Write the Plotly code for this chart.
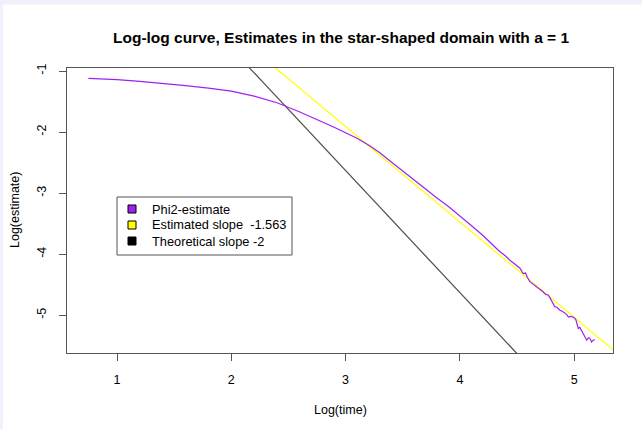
import plotly.graph_objects as go
import numpy as np

# ---------------- data ----------------
curve_x = [0.75, 0.9, 1.0, 1.2, 1.4, 1.6, 1.8, 2.0, 2.2, 2.4, 2.6, 2.7, 2.8, 2.9, 3.0,
           3.1, 3.2, 3.3, 3.4, 3.5, 3.6, 3.7, 3.8, 3.9, 4.0, 4.1, 4.2, 4.263, 4.30,
           4.351, 4.40, 4.438, 4.48, 4.526, 4.545, 4.555, 4.575, 4.59, 4.613, 4.64,
           4.672, 4.70, 4.73, 4.75, 4.773, 4.79, 4.80, 4.815, 4.83, 4.85, 4.876, 4.90,
           4.92, 4.935, 4.95, 4.97, 4.99, 5.005, 5.016, 5.026, 5.036, 5.05, 5.065, 5.08,
           5.095, 5.11, 5.125, 5.138, 5.153, 5.165, 5.18]
curve_y = [-1.12, -1.13, -1.14, -1.17, -1.20, -1.24, -1.28, -1.33, -1.41, -1.52, -1.67,
           -1.75, -1.83, -1.92, -2.01, -2.10, -2.21, -2.34, -2.49, -2.64, -2.79, -2.94,
           -3.08, -3.22, -3.37, -3.53, -3.69, -3.81, -3.87, -3.96, -4.03, -4.10, -4.16,
           -4.23, -4.29, -4.32, -4.31, -4.38, -4.45, -4.49, -4.54, -4.57, -4.62, -4.66,
           -4.67, -4.72, -4.75, -4.80, -4.86, -4.87, -4.92, -4.94, -4.97, -4.99, -5.03,
           -5.02, -5.03, -5.05, -5.08, -5.15, -5.22, -5.20, -5.25, -5.30, -5.36, -5.41,
           -5.37, -5.38, -5.44, -5.41, -5.40]

est_slope = -1.563
est_intercept = 2.78
theo_slope = -2.0
theo_intercept = 3.37

legend_labels = ["Phi2-estimate", "Estimated slope \u00a0-1.563", "Theoretical slope -2"]
legend_colors = ["#A020F0", "#FFFF00", "#000000"]

x_ticks = [1, 2, 3, 4, 5]
y_ticks = [-1, -2, -3, -4, -5]

title_text = "Log-log curve, Estimates in the star-shaped domain with a = 1"
x_title = "Log(time)"
y_title = "Log(estimate)"

# ---------------- layout geometry (pixels) ----------------
W, H = 642, 429
L, R, T, B = 67, 613, 68, 353
x_range = [0.5625, 5.34]
y_range = [-5.62, -0.95]


def px(xp):
    return (xp - L) / (R - L)


def py(yp):
    return (B - yp) / (B - T)


FONT = "Liberation Sans, Arial, sans-serif"
AXC = "#555555"

fig = go.Figure()

xl = np.array(x_range)
fig.add_trace(go.Scatter(x=xl, y=est_intercept + est_slope * xl, mode="lines",
                         line=dict(color=legend_colors[1], width=1.2), showlegend=False))
fig.add_trace(go.Scatter(x=xl, y=theo_intercept + theo_slope * xl, mode="lines",
                         line=dict(color="#4d4d4d", width=1.2), showlegend=False))
fig.add_trace(go.Scatter(x=curve_x, y=curve_y, mode="lines",
                         line=dict(color=legend_colors[0], width=1.2), showlegend=False))

shapes = []
annotations = []

# lavender page strips (top and left)
shapes.append(dict(type="rect", xref="paper", yref="paper", x0=px(0), x1=px(W),
                   y0=py(4.5), y1=py(0), fillcolor="#f1f1fb", line=dict(width=0),
                   layer="below"))
shapes.append(dict(type="rect", xref="paper", yref="paper", x0=px(0), x1=px(3),
                   y0=py(H), y1=py(0), fillcolor="#f1f1fb", line=dict(width=0),
                   layer="below"))

# legend box
shapes.append(dict(type="rect", xref="paper", yref="paper", x0=px(117), x1=px(292),
                   y0=py(255), y1=py(197), line=dict(color=AXC, width=1),
                   fillcolor="white"))
row_y = [209, 225, 241]
for lab, col, ry in zip(legend_labels, legend_colors, row_y):
    shapes.append(dict(type="rect", xref="paper", yref="paper", x0=px(128), x1=px(136),
                       y0=py(ry + 4), y1=py(ry - 4), fillcolor=col,
                       line=dict(color="black", width=1)))
    annotations.append(dict(text=lab, xref="paper", yref="paper", x=px(150), y=py(ry),
                            xanchor="left", yanchor="middle", showarrow=False,
                            font=dict(family=FONT, size=12.8, color="black")))

annotations.append(dict(text="<b>" + title_text + "</b>", xref="paper", yref="paper",
                        x=px(341), y=py(38), xanchor="center", yanchor="middle",
                        showarrow=False, font=dict(family=FONT, size=15.5, color="black")))
annotations.append(dict(text=x_title, xref="paper", yref="paper", x=px(340), y=py(410),
                        xanchor="center", yanchor="middle", showarrow=False,
                        font=dict(family=FONT, size=12.5, color="black")))
annotations.append(dict(text=y_title, xref="paper", yref="paper", x=px(15), y=py(210),
                        xanchor="center", yanchor="middle", showarrow=False, textangle=-90,
                        font=dict(family=FONT, size=12.5, color="black")))

fig.update_layout(
    width=W, height=H,
    margin=dict(l=L, r=W - R, t=T, b=H - B, pad=0),
    paper_bgcolor="white", plot_bgcolor="white",
    showlegend=False,
    shapes=shapes, annotations=annotations,
    font=dict(family=FONT, size=12, color="black"),
    xaxis=dict(range=x_range, tickvals=x_ticks, ticktext=[str(v) for v in x_ticks],
               showgrid=False, zeroline=False, showline=True, mirror=True,
               linecolor=AXC, linewidth=1, ticks="outside", ticklen=7, tickcolor=AXC,
               tickwidth=1, ticklabelstandoff=8,
               tickfont=dict(family=FONT, size=12.5, color="black")),
    yaxis=dict(range=y_range, tickvals=y_ticks, ticktext=[str(v) for v in y_ticks],
               showgrid=False, zeroline=False, showline=True, mirror=True,
               linecolor=AXC, linewidth=1, ticks="outside", ticklen=7, tickcolor=AXC,
               tickwidth=1, tickangle=-90, ticklabelstandoff=8,
               tickfont=dict(family=FONT, size=12.5, color="black")),
)

fig.write_html("out.html", config={"displayModeBar": False},
               post_script="document.body.style.margin='0';document.body.style.overflow='hidden';")
